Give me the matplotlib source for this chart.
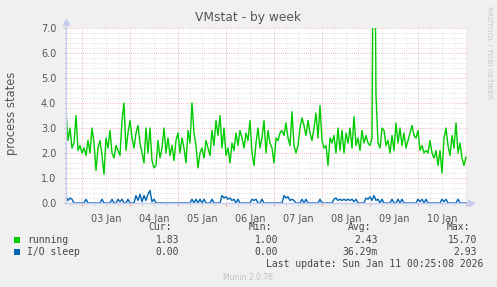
#!/usr/bin/env python3
import numpy as np
import pandas as pd
import matplotlib
matplotlib.use("Agg")
import matplotlib.pyplot as plt
import matplotlib.dates as mdates
from matplotlib.patches import Rectangle

# hourly samples starting 2026-01-02 16:00
start = "2026-01-02 16:00"
running = [
    3.7, 2.5, 3.0, 2.2, 2.4, 3.5, 2.1, 2.3,  # Jan 2 (16h-23h)
    2.0, 2.2, 1.9, 2.5, 2.0, 3.0, 2.4, 1.3, 2.2, 2.5, 1.9, 1.15,
    2.6, 2.2, 2.9, 2.0, 1.8, 2.3, 2.1, 1.9, 3.3, 4.0, 2.1, 2.8,  # Jan 3
    3.3, 2.6, 2.2, 2.8, 3.1, 2.4, 2.0, 1.6, 3.0, 2.0, 3.0, 1.7,
    1.4, 1.5, 2.5, 1.8, 2.2, 3.0, 2.0, 2.6, 1.9, 2.3, 1.7, 2.5,  # Jan 4
    2.8, 2.0, 2.6, 2.2, 1.6, 2.9, 2.4, 4.0, 2.8, 2.3, 1.4, 2.0,
    2.2, 1.8, 2.5, 2.2, 1.9, 2.9, 2.3, 3.3, 2.7, 3.5, 2.2, 3.0,  # Jan 5
    1.9, 2.2, 1.6, 2.4, 2.1, 2.8, 2.3, 2.9, 2.6, 2.2, 2.8, 2.5,
    3.3, 2.0, 1.5, 2.4, 3.0, 2.2, 2.6, 3.3, 2.0, 2.9, 2.4, 2.2,  # Jan 6
    1.6, 2.6, 2.5, 2.8, 2.9, 2.7, 3.2, 2.6, 2.3, 3.65, 2.3, 2.0,
    2.3, 3.0, 3.4, 3.1, 2.7, 3.3, 2.8, 2.5, 3.0, 3.6, 2.6, 3.9,  # Jan 7
    2.5, 2.2, 2.3, 1.5, 2.6, 2.4, 2.7, 2.0, 3.0, 2.1, 2.9, 2.0,
    2.8, 2.4, 3.0, 2.2, 3.45, 2.3, 2.6, 2.1, 2.9, 2.4, 2.7, 2.4,  # Jan 8
    2.3, 2.6, 15.7, 4.3, 2.4, 2.2, 3.0, 2.9, 2.3, 2.5, 2.0, 2.7,
    2.1, 3.2, 2.4, 3.0, 2.3, 2.8, 2.2, 2.5, 2.8, 3.1, 2.7, 2.6,  # Jan 9
    2.9, 2.1, 2.3, 2.0, 2.1, 2.0, 2.5, 2.0, 1.8, 2.1, 1.5, 2.1,
    1.2, 2.6, 3.0, 2.3, 1.9, 2.7, 2.2, 3.2, 2.0, 2.4, 1.8, 1.5,  # Jan 10
    1.83,  # Jan 11 00h
]
io_sleep = [
    0.25, 0.1, 0.2, 0.15, 0, 0, 0, 0,
    0, 0, 0.15, 0, 0, 0, 0, 0, 0, 0, 0.15, 0,
    0, 0, 0, 0.15, 0, 0, 0.15, 0.05, 0.15, 0, 0, 0.15,
    0, 0, 0, 0.3, 0.1, 0.35, 0.05, 0.3, 0.1, 0.35, 0.5, 0.05,
    0.15, 0, 0, 0, 0, 0, 0, 0, 0, 0, 0, 0,
    0, 0, 0, 0, 0, 0, 0, 0.15, 0, 0.15, 0, 0.15,
    0, 0.15, 0, 0, 0, 0.15, 0, 0, 0, 0, 0.3, 0.2,
    0.25, 0.15, 0.2, 0.1, 0.15, 0, 0.15, 0, 0, 0, 0, 0,
    0, 0.15, 0.1, 0.15, 0, 0, 0.15, 0, 0, 0, 0, 0,
    0, 0, 0, 0, 0, 0.3, 0.2, 0.25, 0.1, 0.15, 0.1, 0,
    0, 0, 0.15, 0, 0.15, 0, 0, 0, 0, 0, 0, 0.15,
    0, 0, 0, 0, 0, 0, 0.15, 0.2, 0.1, 0.15, 0.1, 0.15,
    0.1, 0.15, 0.1, 0.15, 0.05, 0.15, 0, 0, 0, 0, 0.2, 0.15,
    0.25, 0.1, 0.3, 0.1, 0.15, 0, 0.15, 0, 0, 0, 0, 0.15,
    0, 0, 0.15, 0, 0.15, 0, 0, 0, 0, 0, 0, 0,
    0.15, 0.05, 0.15, 0, 0.15, 0, 0, 0, 0, 0, 0, 0,
    0.15, 0.05, 0.15, 0, 0, 0, 0, 0, 0.15, 0, 0, 0,
    0,
]
series = ["running", "I/O sleep"]
colors = ["#00CC00", "#0066B3"]
stats_cur = ["1.83", "0.00"]
stats_min = ["1.00", "0.00"]
stats_avg = ["2.43", "36.29m"]
stats_max = ["15.70", "2.93"]
last_update = "Last update: Sun Jan 11 00:25:08 2026"

W, H = 497, 287


def px(x, y):
    return x / W, 1 - y / H


def main():
    times = pd.date_range(start, periods=len(running), freq="h")

    fig = plt.figure(figsize=(W / 100, H / 100), dpi=100, facecolor="#F0F0F0")
    ax = fig.add_axes([66 / W, 1 - 203 / H, 401 / W, 175 / H], facecolor="white")

    ax.plot(times, running, color=colors[0], lw=1, zorder=3)
    ax.plot(times, io_sleep, color=colors[1], lw=1, zorder=3)

    ax.set_xlim(pd.Timestamp("2026-01-02 16:00"), pd.Timestamp("2026-01-11 00:30"))
    ax.set_ylim(0, 7)

    ax.xaxis.set_major_locator(mdates.DayLocator())
    ax.xaxis.set_minor_locator(mdates.HourLocator(byhour=[0, 6, 12, 18]))
    ax.xaxis.set_major_formatter(plt.NullFormatter())
    ax.set_yticks(np.arange(0, 7.1, 1.0))
    ax.set_yticks(np.arange(0, 7.01, 0.2), minor=True)
    ax.yaxis.set_major_formatter(plt.FuncFormatter(lambda v, p: f"{v:.1f}"))

    ax.grid(which="minor", color="#DADADA", ls=(0, (1, 1.5)), lw=0.6, zorder=1)
    ax.grid(which="major", color="#EAA8A8", ls=(0, (1, 1.5)), lw=0.6, zorder=2)
    ax.tick_params(axis="x", which="major", length=2, color="#E8A0A0", pad=2)
    ax.tick_params(axis="x", which="minor", length=2, color="#C8C8C8")
    ax.tick_params(axis="y", which="major", length=2, color="#C8C8C8",
                   labelsize=7, labelcolor="#555555", pad=5)
    ax.tick_params(axis="y", which="minor", length=1.5, color="#C8C8C8")

    for day in pd.date_range("2026-01-03", "2026-01-10", freq="D"):
        ax.text(day + pd.Timedelta(hours=12), -0.06, day.strftime("%d %b"),
                transform=ax.get_xaxis_transform(), ha="center", va="top",
                fontsize=7, color="#555555")

    for s in ax.spines.values():
        s.set_visible(False)
    axis_c = "#C5CCF0"
    ax.plot([0, 0], [0, 1.035], color=axis_c, lw=1, transform=ax.transAxes,
            clip_on=False, zorder=4)
    ax.plot([0, 1.01], [0, 0], color=axis_c, lw=1, transform=ax.transAxes,
            clip_on=False, zorder=4)
    ax.plot([0], [1.035], marker="^", ms=5, color=axis_c, transform=ax.transAxes,
            clip_on=False, zorder=4)
    ax.plot([1.01], [0], marker=">", ms=5, color=axis_c, transform=ax.transAxes,
            clip_on=False, zorder=4)

    fig.text(*px(248, 18), "VMstat - by week", ha="center", va="center",
             fontsize=8.8, color="#555555")
    fig.text(*px(12, 113), "process states", rotation=90, ha="center",
             va="center", fontsize=8.3, color="#555555")
    fig.text(*px(489, 6), "RRDTOOL / TOBI OETIKER", rotation=-90, ha="center",
             va="top", fontsize=5.2, color="#C8C8C8")

    mono = dict(family="DejaVu Sans Mono", fontsize=7, color="#444444", va="center")
    for x, head in zip([172, 272, 371, 470], ["Cur:", "Min:", "Avg:", "Max:"]):
        fig.text(*px(x, 227), head, ha="right", **mono)
    for i, name in enumerate(series):
        y = 240 + 12 * i
        fig.patches.append(Rectangle(px(13.5, y + 3), 6 / W, 6 / H,
                                     transform=fig.transFigure,
                                     facecolor=colors[i], edgecolor="none"))
        fig.text(*px(27, y), name, ha="left", **mono)
        for x, val in zip([179, 278, 378, 477],
                          [stats_cur[i], stats_min[i], stats_avg[i], stats_max[i]]):
            fig.text(*px(x, y), val, ha="right", **mono)
    fig.text(*px(483, 264), last_update, ha="right", **mono)
    fig.text(*px(248, 277), "Munin 2.0.76", ha="center", va="center",
             fontsize=5.5, color="#C0C0C0")

    fig.savefig("out.png", dpi=100, facecolor=fig.get_facecolor())


if __name__ == "__main__":
    main()
